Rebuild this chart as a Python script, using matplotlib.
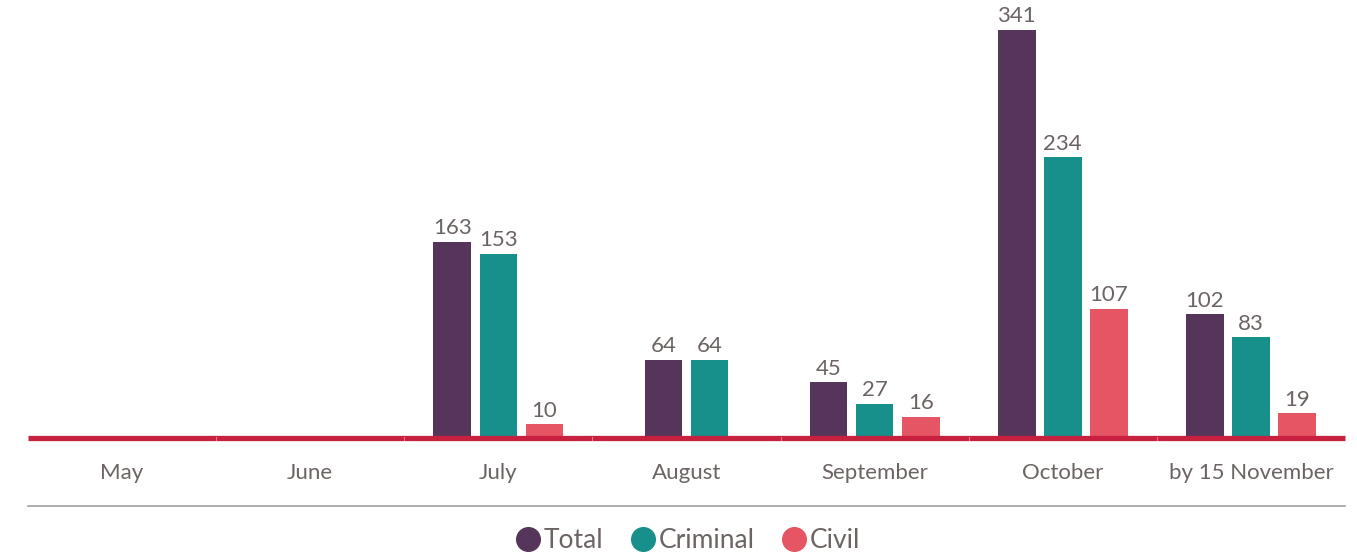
import numpy as np
import matplotlib.pyplot as plt
from matplotlib.lines import Line2D

plt.rcParams['font.family'] = ['Lato', 'DejaVu Sans']

months = ['May', 'June', 'July', 'August', 'September', 'October', 'by 15 November']
total = [0, 0, 163, 64, 45, 341, 102]
criminal = [0, 0, 153, 64, 27, 234, 83]
civil = [0, 0, 10, 0, 16, 107, 19]

series = [('Total', total, '#55355A'),
          ('Criminal', criminal, '#17908B'),
          ('Civil', civil, '#E55563')]

txt = '#6B6462'
w = 0.2
step = 0.245

fig = plt.figure(figsize=(13.57, 5.56), dpi=100)
ax = fig.add_axes([28/1357, 120/556, 1317/1357, 436/556])

# bars of each month are centred on the month, empty series are left out
for c in range(len(months)):
    active = [s for s in series if s[1][c] > 0]
    n = len(active)
    for k, (name, vals, col) in enumerate(active):
        p = c + (k - (n - 1)/2)*step
        ax.bar(p, vals[c], width=w, color=col, zorder=2)
        ax.text(p, vals[c] + 3, str(vals[c]), ha='center', va='bottom',
                fontsize=16, color=txt)

ax.set_xlim(-0.5, len(months) - 0.5)
ax.set_ylim(0, 366)
ax.plot([-0.5, len(months) - 0.5], [-2, -2], color='#C8203F', lw=3.8,
        zorder=3, clip_on=False, solid_capstyle='butt')
for b in np.arange(0.5, len(months) - 1, 1):
    ax.plot([b, b], [-3.5, -0.5], color='#E87A8C', lw=0.8, zorder=4,
            clip_on=False)
ax.set_xticks([])
ax.set_yticks([])
for s in ax.spines.values():
    s.set_visible(False)

for xi, m in enumerate(months):
    ax.text(xi, -31, m, ha='center', va='center', fontsize=16, color=txt)

# gray rule under the labels
ax.plot([-0.5, len(months) - 0.5], [-59, -59], color='#A0A0A0', lw=1.2,
        clip_on=False)

handles = [Line2D([], [], marker='o', ls='', color=c, markersize=17)
           for _, _, c in series]
fig.legend(handles, [s[0] for s in series], loc='center',
           bbox_to_anchor=(686/1357, 15/556), ncol=3, frameon=False,
           fontsize=19, labelcolor=txt, handletextpad=0.0, handlelength=1.2,
           columnspacing=0.9)

fig.savefig('out.png', dpi=100)
